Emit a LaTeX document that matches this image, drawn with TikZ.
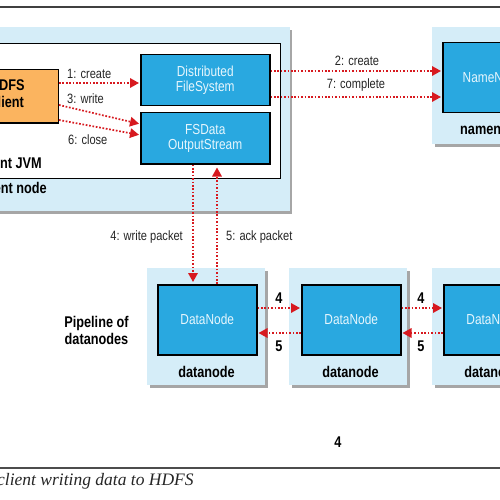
\documentclass[tikz,border=0pt]{standalone}
\usepackage{fontspec}
\setmainfont{Liberation Serif}
\newfontfamily\dgcnd[FakeStretch=0.82]{Liberation Sans}
\usetikzlibrary{arrows.meta,shadows}
\definecolor{panelblue}{HTML}{D5EDF8}
\definecolor{boxblue}{HTML}{29A8E0}
\definecolor{boxtext}{HTML}{E6F6FD}
\definecolor{clientorange}{HTML}{FBB45F}
\definecolor{arrred}{HTML}{D7191F}
\newcommand\dgboxfont{\dgcnd\fontsize{14.5}{15}\selectfont}
\newcommand\dglblfont{\dgcnd\fontsize{13.5}{15}\selectfont}
\newcommand\dgboldfont{\dgcnd\bfseries\fontsize{15.5}{17}\selectfont}
\begin{document}
\begin{tikzpicture}[x=1pt,y=-1pt,
  panel/.style={fill=panelblue, draw=none, inner sep=0,
    drop shadow={shadow xshift=2.5pt,shadow yshift=-2.5pt,fill=black,opacity=.35}},
  jvmbox/.style={fill=white, draw=black, line width=1.2pt, inner sep=0},
  bluebox/.style={fill=boxblue, draw=black, line width=1.5pt, text=boxtext,
    font=\dgboxfont, align=center, inner sep=0},
  clientbox/.style={fill=clientorange, draw=black, line width=1.5pt,
    font=\dgboldfont, align=center, inner sep=0, text depth=6pt},
  lbl/.style={font=\dglblfont, inner sep=0, text=black!85},
  blbl/.style={font=\dgboldfont, inner sep=0, align=center},
  redarr/.style={draw=arrred, line width=1.7pt, dash pattern=on 1.7pt off 1.7pt,
    -{Triangle[length=9pt,width=9.5pt,fill=arrred]}, shorten >=1pt},
]
\useasboundingbox (0,0) rectangle (500,500);
\fill[white] (0,0) rectangle (500,500);
\draw[line width=1.5pt, draw=black!75] (-5,7) -- (505,7);
\draw[line width=2pt, draw=black!70] (-5,468) -- (505,468);

% client node
\node[panel, anchor=north east, minimum width=330, minimum height=184] (clientnode) at (290,27) {};
\node[jvmbox, anchor=north east, minimum width=330, minimum height=135] (jvm) at (281,43) {};
\node[clientbox, anchor=north east, minimum width=102, minimum height=53] (hdfs) at (59,69) {HDFS\\client};
\node[bluebox, anchor=north west, minimum width=129, minimum height=51] (dfs) at (140,54) {Distributed\\FileSystem};
\node[bluebox, anchor=north west, minimum width=129, minimum height=51] (fsdata) at (140,112) {FSData\\OutputStream};
\node[blbl, anchor=base east] (jvmlbl) at (42,168) {Client JVM};
\node[blbl, anchor=base east] (cnlbl) at (47,193) {Client node};

% namenode
\node[panel, anchor=north west, minimum width=118, minimum height=117] (nnpanel) at (432,27) {};
\node[bluebox, anchor=north west, minimum width=100, minimum height=70] (nn) at (442,42) {NameNode};
\node[blbl, anchor=base] (nnlbl) at (492,135) {namenode};

% datanodes
\foreach \i/\px/\ix in {1/147/157, 2/289/301, 3/432/443}{
  \node[panel, anchor=north west, minimum width=118, minimum height=117] (dp\i) at (\px,268) {};
  \node[bluebox, anchor=north west, minimum width=99, minimum height=70] (dn\i) at (\ix,284) {DataNode};
  \node[blbl, anchor=base] (dl\i) at (\ix+49.5,377) {datanode};
}
\node[blbl] (pipe) at (96.5,330) {Pipeline of\\datanodes};

% arrows inside client
\draw[redarr] ([yshift=-14pt]hdfs.north east) -- ([yshift=-29pt]dfs.north west);
\draw[redarr] ([yshift=-36pt]hdfs.north east) -- ([yshift=-12pt]fsdata.north west);
\draw[redarr] ([yshift=-51pt]hdfs.north east) -- ([yshift=-23pt]fsdata.north west);
\node[lbl, anchor=base west] (l1) at (67,79) {1: create};
\node[lbl, anchor=base west] (l3) at (67,103) {3: write};
\node[lbl, anchor=base west] (l6) at (68,144) {6: close};

% to namenode
\draw[redarr] ([yshift=-17pt]dfs.north east) -- ([yshift=-29pt]nn.north west);
\draw[redarr] ([yshift=-43pt]dfs.north east) -- ([yshift=-55pt]nn.north west);
\node[lbl, anchor=base] (l2) at (357,66) {2: create};
\node[lbl, anchor=base] (l7) at (356,89) {7: complete};

% packets
\draw[redarr, shorten >=2pt] ([xshift=53pt]fsdata.south west) -- ([xshift=36pt]dn1.north west);
\draw[redarr, shorten >=3pt] ([xshift=60pt]dn1.north west) -- ([xshift=77pt]fsdata.south west);
\node[lbl, anchor=base east] (l4) at (183,240) {4: write packet};
\node[lbl, anchor=base west] (l5) at (226,240) {5: ack packet};

% pipeline
\draw[redarr] ([yshift=-24pt]dn1.north east) -- ([yshift=-24pt]dn2.north west);
\draw[redarr] ([yshift=-49pt]dn2.north west) -- ([yshift=-49pt]dn1.north east);
\draw[redarr] ([yshift=-24pt]dn2.north east) -- ([yshift=-24pt]dn3.north west);
\draw[redarr] ([yshift=-49pt]dn3.north west) -- ([yshift=-49pt]dn2.north east);
\node[blbl] (p4a) at (279,298) {4};
\node[blbl] (p5a) at (279,346) {5};
\node[blbl] (p4b) at (421,298) {4};
\node[blbl] (p5b) at (421,346) {5};

\node[blbl] (bottom4) at (338,442) {4};
\node[anchor=base west, inner sep=0, font=\itshape\fontsize{17.5}{20}\selectfont, text=black!85] (caption) at (-3,485) {client writing data to HDFS};
\end{tikzpicture}
\end{document}
